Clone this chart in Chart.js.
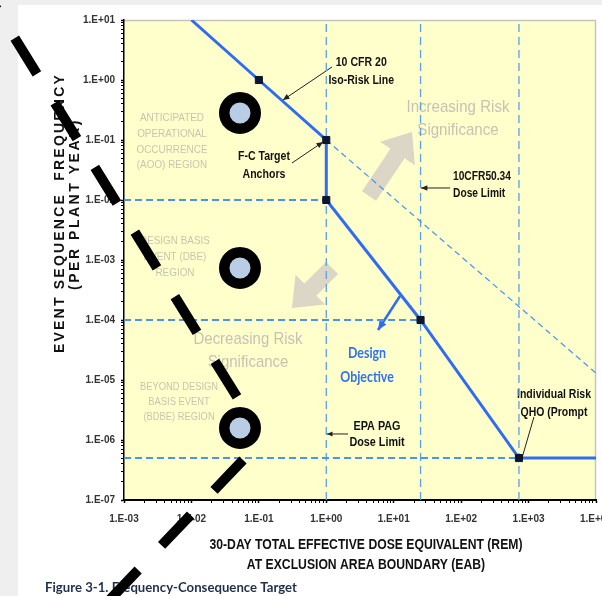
<!DOCTYPE html>
<html><head><meta charset="utf-8">
<script src="https://cdn.jsdelivr.net/npm/chart.js@4/dist/chart.umd.min.js"></script>
<style>
html,body{margin:0;padding:0;background:#efefef;width:602px;height:596px;overflow:hidden}
#card{position:absolute;left:18px;top:5px;width:584px;height:591px;background:#fff}
#wrap{position:absolute;left:0;top:0;width:602px;height:596px}
</style></head><body>
<div id="card"></div>
<div id="wrap"><canvas id="c" width="602" height="596"></canvas></div>
<script>
// ---- axis ticks ----
const xTickValues = [1e-3, 1e-2, 1e-1, 1, 10, 100, 1000, 10000];
const xTickLabels = ['1.E-03','1.E-02','1.E-01','1.E+00','1.E+01','1.E+02','1.E+03','1.E+04'];
const yTickValues = [10, 1, 0.1, 0.01, 1e-3, 1e-4, 1e-5, 1e-6, 1e-7];
const yTickLabels = ['1.E+01','1.E+00','1.E-01','1.E-02','1.E-03','1.E-04','1.E-05','1.E-06','1.E-07'];

// ---- F-C target curve (dose rem, frequency /plant-yr) ----
const fcDose = [0.01, 0.1, 1, 1, 25, 720, 10000];
const fcFreq = [10, 1, 0.1, 0.01, 1e-4, 5e-7, 5e-7];
// anchor markers
const anchorDose = [0.1, 1, 1, 25, 720];
const anchorFreq = [1, 0.1, 0.01, 1e-4, 5e-7];
// 10 CFR 20 iso-risk continuation
const isoDose = [1, 10000];
const isoFreq = [0.1, 1.3e-5];
// horizontal region boundaries (freq) and where they end (dose)
const hLineFreq = [0.01, 1e-4, 5e-7];
const hLineEndDose = [1, 25, 720];
// vertical dose limits
const vLineDose = [1, 25, 720];

// ---- overlay marks (black dashed strokes and rings) ----
const overlayADose = [0.0474, 6.17e-6];
const overlayAFreq = [5.21e-6, 58.5];
const overlayBDose = [0.0582, 4.41e-4];
const overlayBFreq = [4.65e-7, 1.47e-9];
const ringDose = [0.0525, 0.0525, 0.0525];
const ringFreq = [0.282, 7.36e-4, 1.585e-6];

const zip = (xs, ys) => xs.map((x, i) => ({x, y: ys[i]}));
const SANS = "'Liberation Sans',Arial,sans-serif";

function minorTicks(e0, e1) {
  const t = [];
  for (let e = e0; e < e1; e++) for (let m = 1; m <= 9; m++) t.push({value: m * Math.pow(10, e), major: m === 1});
  t.push({value: Math.pow(10, e1), major: true});
  return t;
}
function labelFor(v, vals, labs) {
  for (let i = 0; i < vals.length; i++) if (Math.abs(Math.log10(v) - Math.log10(vals[i])) < 1e-6) return labs[i];
  return '';
}

const datasets = [];
datasets.push({label:'ring', data: zip(ringDose, ringFreq), showLine:false, pointRadius:15.75,
  pointBorderWidth:10.5, pointBackgroundColor:'#b9cde5', pointBorderColor:'#000', clip:false});
datasets.push({label:'ovA', data: zip(overlayADose, overlayAFreq), showLine:true, borderColor:'#000',
  borderWidth:10, borderDash:[42,34], borderCapStyle:'butt', pointRadius:0, clip:false});
datasets.push({label:'ovB', data: zip(overlayBDose, overlayBFreq), showLine:true, borderColor:'#000',
  borderWidth:10, borderDash:[42,34], borderCapStyle:'butt', pointRadius:0, clip:false});
datasets.push({label:'anchors', data: zip(anchorDose, anchorFreq), showLine:false, pointStyle:'rect',
  pointRadius:5, pointBackgroundColor:'#0d1530', pointBorderColor:'#0d1530', pointBorderWidth:1});
datasets.push({label:'fc', data: zip(fcDose, fcFreq), showLine:true, borderColor:'#2f6cf2', borderWidth:3, pointRadius:0});
datasets.push({label:'iso', data: zip(isoDose, isoFreq), showLine:true, borderColor:'#4f98ea', borderWidth:1.3,
  borderDash:[6,4], pointRadius:0});
hLineFreq.forEach((f, i) => datasets.push({label:'h'+i, data: zip([1e-3, hLineEndDose[i]], [f, f]), showLine:true,
  borderColor:'#4a95ea', borderWidth:2, borderDash:[7,4], pointRadius:0}));
vLineDose.forEach((d, i) => datasets.push({label:'v'+i, data: zip([d, d], [1e-7, 10]), showLine:true,
  borderColor:'#5aa0e6', borderWidth:1.3, borderDash:[8,5], pointRadius:0}));

// text block: horizontal scale chosen so that the first line spans w0 pixels
function textBlock(ctx, lines, x, y, lh, font, color, align, w0) {
  ctx.save();
  ctx.font = font; ctx.fillStyle = color; ctx.textBaseline = 'middle'; ctx.textAlign = align || 'center';
  const sx = w0 ? w0 / ctx.measureText(lines[0]).width : 1;
  const n = lines.length;
  lines.forEach((t, i) => {
    ctx.save(); ctx.translate(x, y + (i - (n - 1) / 2) * lh); ctx.scale(sx, 1);
    ctx.fillText(t, 0, 0); ctx.restore();
  });
  ctx.restore();
}
function arrowLine(ctx, x1, y1, x2, y2, color, w, head) {
  ctx.strokeStyle = color; ctx.fillStyle = color; ctx.lineWidth = w;
  ctx.beginPath(); ctx.moveTo(x1, y1); ctx.lineTo(x2, y2); ctx.stroke();
  if (head) {
    const a = Math.atan2(y2 - y1, x2 - x1);
    ctx.beginPath(); ctx.moveTo(x2, y2);
    ctx.lineTo(x2 - head * Math.cos(a - 0.42), y2 - head * Math.sin(a - 0.42));
    ctx.lineTo(x2 - head * Math.cos(a + 0.42), y2 - head * Math.sin(a + 0.42));
    ctx.closePath(); ctx.fill();
  }
}
function blockArrow(ctx, x1, y1, x2, y2, sw, hw, hl, color) {
  const dx = x2 - x1, dy = y2 - y1, L = Math.hypot(dx, dy);
  const ux = dx / L, uy = dy / L, nx = -uy, ny = ux;
  const bx = x2 - ux * hl, by = y2 - uy * hl;
  ctx.fillStyle = color; ctx.beginPath();
  ctx.moveTo(x1 + nx * sw / 2, y1 + ny * sw / 2);
  ctx.lineTo(bx + nx * sw / 2, by + ny * sw / 2);
  ctx.lineTo(bx + nx * hw / 2, by + ny * hw / 2);
  ctx.lineTo(x2, y2);
  ctx.lineTo(bx - nx * hw / 2, by - ny * hw / 2);
  ctx.lineTo(bx - nx * sw / 2, by - ny * sw / 2);
  ctx.lineTo(x1 - nx * sw / 2, y1 - ny * sw / 2);
  ctx.closePath(); ctx.fill();
}
function spacedRotated(ctx, text, cx, cy, font, target) {
  ctx.save(); ctx.font = font; ctx.fillStyle = '#111'; ctx.textAlign = 'center'; ctx.textBaseline = 'middle';
  const w = ctx.measureText(text).width;
  ctx.letterSpacing = ((target - w) / text.length).toFixed(2) + 'px';
  ctx.translate(cx, cy); ctx.rotate(-Math.PI / 2); ctx.fillText(text, 0, 0); ctx.restore();
}

const annot = {
  id: 'annot',
  beforeDraw(chart) {
    const {ctx, chartArea: a} = chart;
    ctx.save();
    ctx.fillStyle = '#ffffcc';
    ctx.fillRect(a.left, a.top, a.right - a.left, a.bottom - a.top);
    ctx.strokeStyle = '#c4c4c4'; ctx.lineWidth = 1.5;
    ctx.beginPath(); ctx.moveTo(a.left, a.top + 0.5); ctx.lineTo(a.right - 0.5, a.top + 0.5); ctx.lineTo(a.right - 0.5, a.bottom); ctx.stroke();
    ctx.restore();
  },
  beforeDatasetsDraw(chart) {
    const {ctx, chartArea: a} = chart;
    const X = v => chart.scales.x.getPixelForValue(v);
    const Y = v => chart.scales.y.getPixelForValue(v);
    ctx.save();
    // grey block arrows
    blockArrow(ctx, X(4.3), Y(0.01167), X(18.7), Y(0.136), 17, 42, 26, '#dbd6c6');
    blockArrow(ctx, X(1.216), Y(7.36e-4), X(0.31), Y(1.585e-4), 17, 42, 26, '#dbd6c6');
    // region labels
    const reg = '#c6c6ae', rf = '11.5px ' + SANS;
    textBlock(ctx, ['ANTICIPATED','OPERATIONAL','OCCURRENCE','(AOO) REGION'], X(0.00515), Y(0.0944), 15.7, rf, reg, 'center', 64);
    textBlock(ctx, ['DESIGN BASIS','EVENT (DBE)','REGION'], X(0.0057), Y(0.00112), 16, rf, reg, 'center', 70);
    textBlock(ctx, ['BEYOND DESIGN','BASIS EVENT','(BDBE) REGION'], X(0.00655), Y(4.3e-6), 15, rf, reg, 'center', 78);
    textBlock(ctx, ['Increasing Risk','Significance'], X(89.7), Y(0.228), 23, '17px ' + SANS, '#c5c3b4', 'center', 103);
    textBlock(ctx, ['Decreasing Risk','Significance'], X(0.069), Y(3.1e-5), 23, '17px ' + SANS, '#c5c3b4', 'center', 109);
    // black annotations
    const bf = 'bold 12.5px ' + SANS;
    textBlock(ctx, ['10 CFR 20','Iso-Risk Line'], X(3.3), Y(1.36), 18, bf, '#111', 'center', 51);
    arrowLine(ctx, X(1.216), Y(1.648), X(0.228), Y(0.4645), '#222', 1, 7);
    textBlock(ctx, ['F-C Target','Anchors'], X(0.119), Y(0.0369), 18, bf, '#111', 'center', 52);
    arrowLine(ctx, X(0.31), Y(0.0414), X(0.893), Y(0.0927), '#222', 1, 7);
    textBlock(ctx, ['10CFR50.34','Dose Limit'], X(75.7), Y(0.01746), 17, bf, '#111', 'left', 58);
    arrowLine(ctx, X(68.4), Y(0.01585), X(25.4), Y(0.01585), '#222', 1, 7);
    textBlock(ctx, ['EPA PAG','Dose Limit'], X(5.65), Y(1.21e-6), 16, bf, '#111', 'center', 47);
    arrowLine(ctx, X(2.1), Y(1.26e-6), X(1.026), Y(1.26e-6), '#222', 1, 6);
    textBlock(ctx, ['Individual Risk','QHO (Prompt'], X(2382), Y(3.98e-6), 18, bf, '#111', 'center', 74);
    arrowLine(ctx, X(1202), Y(2.42e-6), X(798), Y(5.0e-7), '#222', 1, 0);
    // design objective
    arrowLine(ctx, X(12.4), Y(2.51e-4), X(5.85), Y(6.81e-5), '#2f6cf2', 2.5, 10);
    textBlock(ctx, ['Design','Objective'], X(4.02), Y(1.78e-5), 24, 'bold 15px Lato,' + SANS, '#2f74ea', 'center', 38);
    // axis titles
    spacedRotated(ctx, 'EVENT SEQUENCE  FREQUENCY', a.left - 64, 213, 'bold 14px ' + SANS, 280);
    spacedRotated(ctx, '(PER PLANT YEAR)', a.left - 49, 204, 'bold 14px ' + SANS, 172);
    textBlock(ctx, ['30-DAY TOTAL EFFECTIVE DOSE EQUIVALENT (REM)','AT EXCLUSION AREA BOUNDARY (EAB)'], (a.left + a.right) / 2 + 6, a.bottom + 55, 20, 'bold 14px ' + SANS, '#111', 'center', 313);
    // caption
    textBlock(ctx, ['Figure 3-1. Frequency-Consequence Target'], 45, 588, 0, 'bold 13px Lato,' + SANS, '#1f2f4a', 'left', 252);
    ctx.restore();
  }
};

new Chart(document.getElementById('c'), {
  type: 'scatter',
  data: {datasets},
  options: {
    responsive: false, animation: false, events: [],
    layout: {autoPadding: false, padding: {top: 20, right: 6, left: 0, bottom: 0}},
    plugins: {legend: {display: false}, tooltip: {enabled: false}},
    scales: {
      x: {type: 'logarithmic', min: 1e-3, max: 1e4,
        afterBuildTicks: s => { s.ticks = minorTicks(-3, 4); },
        afterFit: s => { s.height = 96; s.paddingLeft = 0; s.paddingRight = 0; },
        ticks: {autoSkip: false, maxRotation: 0, minRotation: 0, padding: 10, color: '#333',
          font: {family: SANS, size: 10, weight: 'bold'},
          callback: v => labelFor(v, xTickValues, xTickLabels)},
        grid: {drawOnChartArea: false, tickLength: 3, tickColor: '#000', tickWidth: c => c.tick && c.tick.major ? 1.5 : 1},
        border: {display: true, color: '#000', width: 2}
      },
      y: {type: 'logarithmic', min: 1e-7, max: 10,
        afterBuildTicks: s => { s.ticks = minorTicks(-7, 1); },
        afterFit: s => { s.width = 124; s.paddingTop = 0; s.paddingBottom = 0; },
        ticks: {autoSkip: false, padding: 6, color: '#333',
          font: {family: SANS, size: 10, weight: 'bold'},
          callback: v => labelFor(v, yTickValues, yTickLabels)},
        grid: {drawOnChartArea: false, tickLength: 3, tickColor: '#000', tickWidth: c => c.tick && c.tick.major ? 1.5 : 1},
        border: {display: true, color: '#000', width: 1.5}
      }
    }
  },
  plugins: [annot]
});
</script>
</body></html>
